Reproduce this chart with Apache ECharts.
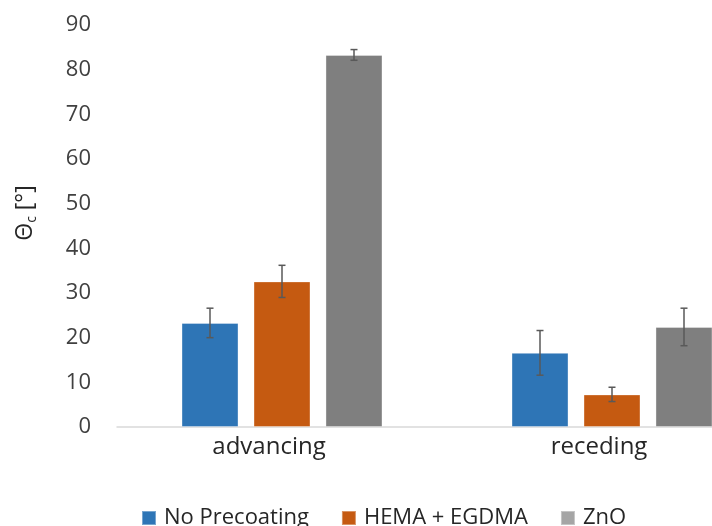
<!DOCTYPE html>
<html>
<head>
<meta charset="utf-8">
<script src="https://cdn.jsdelivr.net/npm/echarts@6/dist/echarts.min.js"></script>
<style>
html,body{margin:0;padding:0;background:#fff;}
#chart{width:712px;height:526px;}
</style>
</head>
<body>
<div id="chart"></div>
<script>
const categories = ['advancing', 'receding'];
const seriesNames = ['No Precoating', 'HEMA + EGDMA', 'ZnO'];
const noPrecoating = [23.3, 16.6];
const hemaEgdma = [32.6, 7.3];
const zno = [83.3, 22.4];
const noPrecoatingErr = [3.3, 5.0];
const hemaEgdmaErr = [3.6, 1.6];
const znoErr = [1.2, 4.2];
const yTicks = [0, 10, 20, 30, 40, 50, 60, 70, 80, 90];

const values = [noPrecoating, hemaEgdma, zno];
const errors = [noPrecoatingErr, hemaEgdmaErr, znoErr];
const colors = ['#2E75B6', '#C55A11', '#7F7F7F'];
const legendColors = ['#2E75B6', '#C55A11', '#A5A5A5'];
const BAR_W = 57, BAR_GAP = 15;
const FONT = '"Open Sans", "Noto Sans", sans-serif';

const chart = echarts.init(document.getElementById('chart'));

const barSeries = seriesNames.map((name, i) => ({
  name: name,
  type: 'bar',
  data: values[i],
  barWidth: BAR_W,
  barGap: (BAR_GAP / BAR_W * 100).toFixed(1) + '%',
  itemStyle: { color: colors[i], borderColor: 'rgba(255,255,255,0.35)', borderWidth: 1 },
  emphasis: { disabled: true }
}));

const errData = [];
seriesNames.forEach((name, i) => {
  categories.forEach((c, j) => {
    errData.push([j, values[i][j] - errors[i][j], values[i][j] + errors[i][j], i]);
  });
});

const errSeries = {
  type: 'custom',
  name: 'err',
  data: errData,
  encode: { x: 0, y: [1, 2] },
  z: 10,
  renderItem: function (params, api) {
    const cat = api.value(0);
    const lo = api.coord([cat, api.value(1)]);
    const hi = api.coord([cat, api.value(2)]);
    const si = api.value(3);
    const off = (si - 1) * (BAR_W + BAR_GAP);
    const x = lo[0] + off;
    const cap = 3.5;
    const style = { stroke: '#595959', lineWidth: 1.5 };
    return {
      type: 'group',
      children: [
        { type: 'line', shape: { x1: x, y1: lo[1], x2: x, y2: hi[1] }, style: style },
        { type: 'line', shape: { x1: x - cap, y1: lo[1], x2: x + cap, y2: lo[1] }, style: style },
        { type: 'line', shape: { x1: x - cap, y1: hi[1], x2: x + cap, y2: hi[1] }, style: style }
      ]
    };
  }
};

chart.setOption({
  animation: false,
  backgroundColor: '#fff',
  textStyle: { fontFamily: FONT },
  grid: { left: 117, top: 25, width: 660, height: 402, containLabel: false, outerBoundsMode: 'none' },
  legend: {
    data: seriesNames.map((n, i) => ({ name: n, itemStyle: { color: legendColors[i] } })),
    left: 136,
    top: 502,
    icon: 'rect',
    itemWidth: 14,
    itemHeight: 14,
    itemGap: 32,
    textStyle: { fontSize: 22, color: '#262626', fontFamily: FONT, padding: [0, 0, 0, 3] }
  },
  xAxis: {
    type: 'category',
    data: categories,
    axisLine: { lineStyle: { color: '#D9D9D9', width: 1.5 } },
    axisTick: { show: false },
    axisLabel: { fontSize: 24, color: '#262626', margin: 8, padding: [0, 26, 0, 0], fontFamily: FONT }
  },
  yAxis: {
    type: 'value',
    min: yTicks[0],
    max: yTicks[yTicks.length - 1],
    interval: 10,
    axisLine: { show: false },
    axisTick: { show: false },
    splitLine: { show: false },
    axisLabel: { fontSize: 22, color: '#404040', margin: 26, fontFamily: FONT },
    name: '{t|Θ}{s|c}{t| [°]}',
    nameLocation: 'middle',
    nameGap: 78,
    nameRotate: 90,
    nameTextStyle: {
      padding: [0, 0, 0, 26],
      rich: {
        t: { fontSize: 23, color: '#262626', fontFamily: FONT, verticalAlign: 'middle' },
        s: { fontSize: 14, color: '#262626', fontFamily: FONT, verticalAlign: 'bottom', padding: [13, 0, 0, 0] }
      }
    }
  },
  series: barSeries.concat([errSeries])
});
</script>
</body>
</html>
